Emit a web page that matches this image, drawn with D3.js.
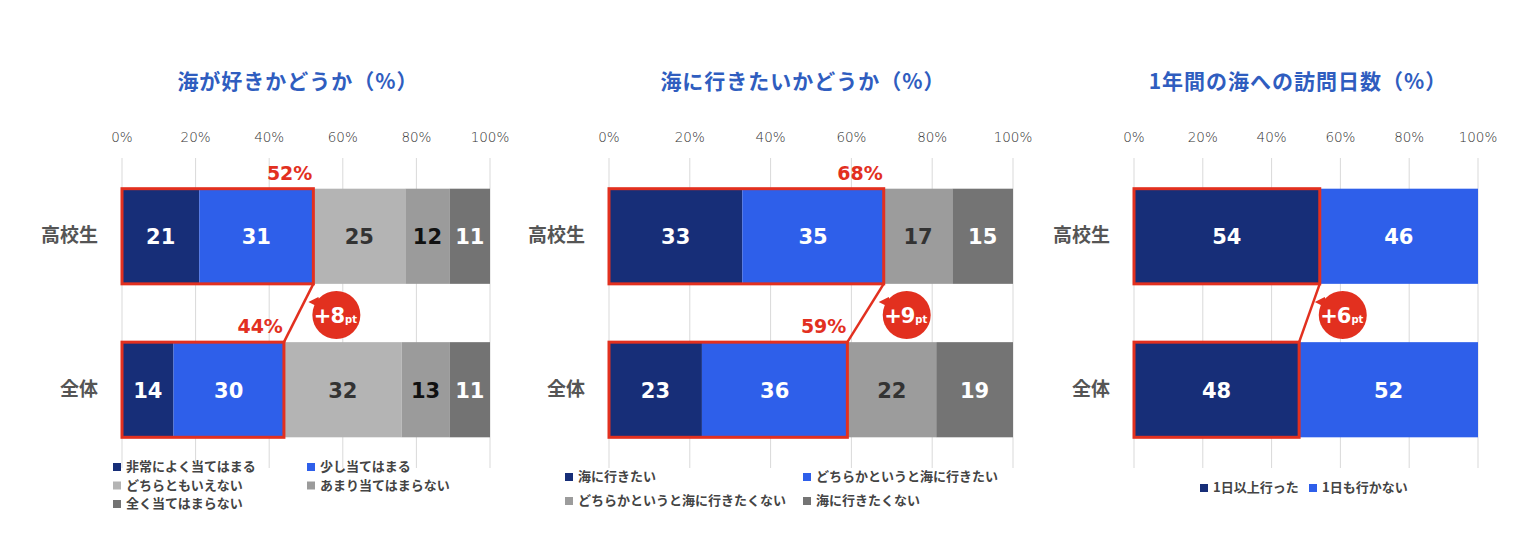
<!DOCTYPE html>
<html>
<head>
<meta charset="utf-8">
<script src="https://cdn.jsdelivr.net/npm/d3@7"></script>
<style>
  body { margin: 0; background: #fff; }
  text { font-family: "Noto Sans CJK JP", "Noto Sans", sans-serif; }
</style>
</head>
<body>
<div id="chart"></div>
<script>
var categories = ["高校生", "全体"];
var ticks = [0, 20, 40, 60, 80, 100];

var likeSeries = ["非常によく当てはまる", "少し当てはまる", "どちらともいえない", "あまり当てはまらない", "全く当てはまらない"];
var likeValues = [[21, 31, 25, 12, 11], [14, 30, 32, 13, 11]];

var wantSeries = ["海に行きたい", "どちらかというと海に行きたい", "どちらかというと海に行きたくない", "海に行きたくない"];
var wantValues = [[33, 35, 17, 15], [23, 36, 22, 19]];

var visitSeries = ["1日以上行った", "1日も行かない"];
var visitValues = [[54, 46], [48, 52]];

var titles = ["海が好きかどうか（%）", "海に行きたいかどうか（%）", "1年間の海への訪問日数（%）"];
var sumLabels = [["52%", "44%"], ["68%", "59%"], null];
var diffLabels = ["+8", "+9", "+6"];

var navy = "#172e78", blue = "#2e5fea", red = "#e2301f";

var panels = [
  {series: likeSeries, values: likeValues, title: titles[0], sums: sumLabels[0], diff: diffLabels[0], hi: 2,
   range: [122, 490], colors: [navy, blue, "#b4b4b4", "#9b9b9b", "#737373"],
   textColors: ["#fff", "#fff", "#333", "#111", "#fff"],
   legend: {cols: [-9, 185], rows: [466, 484.5, 503], perRow: 2}},
  {series: wantSeries, values: wantValues, title: titles[1], sums: sumLabels[1], diff: diffLabels[1], hi: 2,
   range: [609, 1013], colors: [navy, blue, "#9c9c9c", "#747474"],
   textColors: ["#fff", "#fff", "#333", "#fff"],
   legend: {cols: [-44, 194], rows: [476, 500], perRow: 2}},
  {series: visitSeries, values: visitValues, title: titles[2], sums: null, diff: diffLabels[2], hi: 1,
   range: [1134, 1478], colors: [navy, blue],
   textColors: ["#fff", "#fff"],
   legend: {cols: [66, 175], rows: [487], perRow: 2}}
];

var svg = d3.select("#chart").append("svg")
    .attr("width", 1540)
    .attr("height", 560);

var y = d3.scaleBand()
    .domain(categories)
    .range([158, 468])
    .paddingInner(0.38)
    .paddingOuter(0.2);

panels.forEach(function(p) {
  var g = svg.append("g");
  var x = d3.scaleLinear().domain([0, 100]).range(p.range);

  // title
  g.append("text")
      .attr("x", (p.range[0] + p.range[1]) / 2 - 8)
      .attr("y", 89)
      .attr("text-anchor", "middle")
      .style("font-size", "21px")
      .style("letter-spacing", "1px")
      .style("font-weight", 700)
      .style("fill", "#2f5dbf")
      .text(p.title);

  // grid + ticks
  g.selectAll(".grid").data(ticks).enter().append("line")
      .attr("x1", function(d) { return x(d); })
      .attr("x2", function(d) { return x(d); })
      .attr("y1", 158).attr("y2", 468)
      .style("stroke", "#d9d9d9").style("stroke-width", 1);

  g.selectAll(".tick").data(ticks).enter().append("text")
      .attr("x", function(d) { return x(d); })
      .attr("y", 142)
      .attr("text-anchor", "middle")
      .style("font-family", "'DejaVu Sans', sans-serif")
      .style("font-weight", 200)
      .style("font-size", "13.5px")
      .style("fill", "#333")
      .text(function(d) { return d + "%"; });

  // category labels
  g.selectAll(".cat").data(categories).enter().append("text")
      .attr("x", p.range[0] - 24)
      .attr("y", function(d) { return y(d) + y.bandwidth() / 2 + 6; })
      .attr("text-anchor", "end")
      .style("font-size", "19px")
      .style("font-weight", 700)
      .style("fill", "#555")
      .text(function(d) { return d; });

  // stacked bars
  categories.forEach(function(c, ci) {
    var vals = p.values[ci];
    var cum = 0;
    var segs = vals.map(function(v, i) {
      var s = {v: v, i: i, x0: cum, x1: cum + v};
      cum += v;
      return s;
    });
    var row = g.append("g");
    row.selectAll("rect").data(segs).enter().append("rect")
        .attr("x", function(d) { return x(d.x0); })
        .attr("y", y(c))
        .attr("width", function(d) { return x(d.x1) - x(d.x0); })
        .attr("height", y.bandwidth())
        .style("fill", function(d) { return p.colors[d.i]; });
    row.selectAll("text").data(segs).enter().append("text")
        .attr("x", function(d) { return (x(d.x0) + x(d.x1)) / 2; })
        .attr("y", y(c) + y.bandwidth() / 2 + 8)
        .attr("text-anchor", "middle")
        .style("font-family", "'DejaVu Sans', sans-serif")
        .style("font-size", "21px")
        .style("font-weight", 700)
        .style("fill", function(d) { return p.textColors[d.i]; })
        .text(function(d) { return d.v; });
  });

  // highlight boxes
  var hiSums = p.values.map(function(v) { return d3.sum(v.slice(0, p.hi)); });
  categories.forEach(function(c, ci) {
    g.append("rect")
        .attr("x", x(0))
        .attr("y", y(c))
        .attr("width", x(hiSums[ci]) - x(0))
        .attr("height", y.bandwidth())
        .style("fill", "none")
        .style("stroke", red)
        .style("stroke-width", 3);
    if (p.sums) {
      g.append("text")
          .attr("x", x(hiSums[ci]) - 1)
          .attr("y", y(c) - 9)
          .attr("text-anchor", "end")
          .style("font-family", "'DejaVu Sans', sans-serif")
          .style("font-size", "19px")
          .style("font-weight", 700)
          .style("fill", red)
          .text(p.sums[ci]);
    }
  });

  // connector
  var yTopEnd = y(categories[0]) + y.bandwidth();
  var yBotStart = y(categories[1]);
  g.append("line")
      .attr("x1", x(hiSums[0])).attr("y1", yTopEnd)
      .attr("x2", x(hiSums[1])).attr("y2", yBotStart)
      .style("stroke", red).style("stroke-width", 2.5);

  // badge
  var cx = x(hiSums[0]) + 23, cy = (yTopEnd + yBotStart) / 2 + 2;
  var badge = g.append("g").attr("transform", "translate(" + cx + "," + cy + ")");
  badge.append("path")
      .attr("d", "M-28,-13 L-18,-18 L-14,-6 Z")
      .style("fill", red);
  badge.append("circle").attr("r", 24).style("fill", red);
  var bt = badge.append("text")
      .attr("x", -1).attr("y", 8)
      .attr("text-anchor", "middle")
      .style("font-family", "'DejaVu Sans', sans-serif")
      .style("font-weight", 700)
      .style("fill", "#fff");
  bt.append("tspan").style("font-size", "21px").style("letter-spacing", "-1px").text(p.diff);
  bt.append("tspan").style("font-size", "10px").attr("dx", 1).text("pt");

  // legend
  var lg = g.append("g");
  var items = lg.selectAll("g").data(p.series).enter().append("g")
      .attr("transform", function(d, i) {
        var col = i % p.legend.perRow, r = Math.floor(i / p.legend.perRow);
        return "translate(" + (p.range[0] + p.legend.cols[col]) + "," + p.legend.rows[r] + ")";
      });
  items.append("rect")
      .attr("x", 0).attr("y", -3)
      .attr("width", 8).attr("height", 8)
      .style("fill", function(d, i) { return p.colors[i]; });
  items.append("text")
      .attr("x", 13).attr("y", 5)
      .style("font-size", "13px")
      .style("font-weight", 700)
      .style("fill", "#444")
      .text(function(d) { return d; });
});
</script>
</body>
</html>
